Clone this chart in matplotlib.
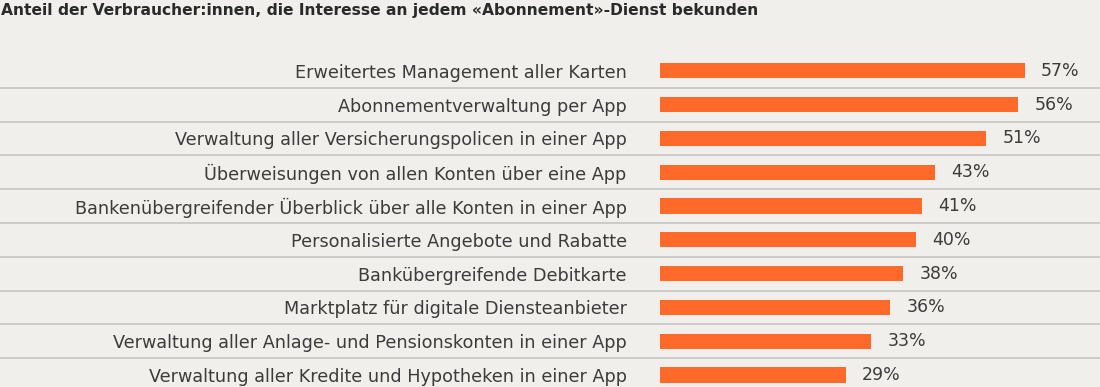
import matplotlib
matplotlib.use("Agg")
import matplotlib.pyplot as plt
from matplotlib.lines import Line2D
from matplotlib.transforms import blended_transform_factory

categories = [
    "Erweitertes Management aller Karten",
    "Abonnementverwaltung per App",
    "Verwaltung aller Versicherungspolicen in einer App",
    "Überweisungen von allen Konten über eine App",
    "Bankenübergreifender Überblick über alle Konten in einer App",
    "Personalisierte Angebote und Rabatte",
    "Bankübergreifende Debitkarte",
    "Marktplatz für digitale Diensteanbieter",
    "Verwaltung aller Anlage- und Pensionskonten in einer App",
    "Verwaltung aller Kredite und Hypotheken in einer App",
]
values = [57, 56, 51, 43, 41, 40, 38, 36, 33, 29]
title = "Anteil der Verbraucher:innen, die Interesse an jedem «Abonnement»-Dienst bekunden"

BG = "#f0efeb"
BAR = "#ff6a2b"
TXT = "#3c3c3c"
plt.rcParams['font.family'] = ['DejaVu Sans']

W, H = 1100, 387
fig = plt.figure(figsize=(W / 100, H / 100), dpi=100, facecolor=BG)
ax = fig.add_axes([660 / W, 0, 440 / W, (H - 54) / H])
ax.set_facecolor(BG)

y = list(range(len(categories)))
ax.barh(y, values, height=0.45, color=BAR, zorder=3)
ax.set_xlim(0, 440 / 6.4)
ax.set_ylim(9 + (H - 375) / 33.78, -0.5)

ax.set_yticks(y)
ax.set_yticklabels(categories, fontsize=12.7, color=TXT)
ax.tick_params(axis='y', length=0, pad=24)
ax.set_xticks([])
for s in ax.spines.values():
    s.set_visible(False)

for yi, v in zip(y, values):
    ax.text(v + 2.5, yi, f"{v}%", va='center', ha='left', fontsize=12.5, color=TXT)

tr = blended_transform_factory(fig.transFigure, ax.transData)
for i in range(len(categories) - 1):
    fig.add_artist(Line2D([0, 1], [i + 0.5, i + 0.5], transform=tr,
                          color="#cbcac6", linewidth=1.4))

fig.text(1 / W, 1 - 10 / H, title, fontsize=11.2, fontweight='bold', color="#2a2a2a",
         va='center', ha='left')

fig.savefig("out.png", dpi=100, facecolor=BG)
